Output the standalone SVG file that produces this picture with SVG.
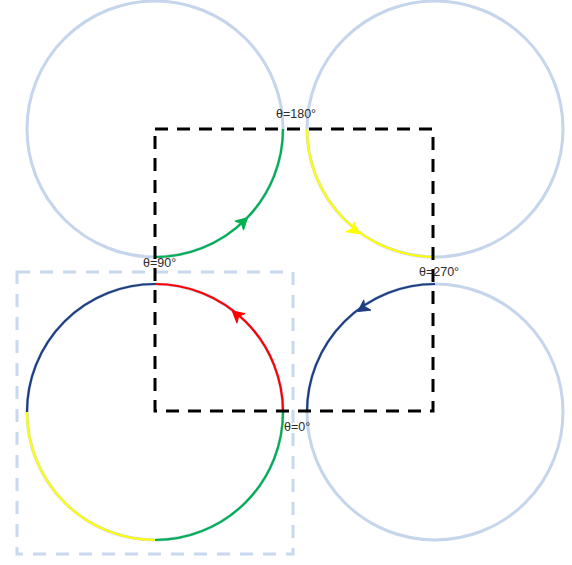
<svg xmlns="http://www.w3.org/2000/svg" width="572" height="565" viewBox="0 0 572 565">
<style>
.c{fill:none;stroke:#c5d5ec;stroke-width:3}
.a{fill:none;stroke-width:2.2}
.lbl{font-family:"Liberation Sans",Arial,sans-serif;font-size:12.5px;fill:#2b2b2b}
</style>
<defs>
<path id="ah" d="M6,0 L-5,-6 L-2,0 L-5,6 Z" stroke-width="1.2" stroke-linejoin="round"/>
</defs>
<rect width="572" height="565" fill="#fff"/>
<g id="frame-light">
<rect x="17" y="272" width="276" height="282" fill="none" stroke="#c8d8ef" stroke-width="3" stroke-dasharray="13,10"/>
</g>
<g id="circle-tl">
<circle class="c" cx="155" cy="129" r="128"/>
<path class="a" stroke="#00b050" d="M155,257 A128,128 0 0 0 283,129"/>
<use href="#ah" fill="#00b050" stroke="#00b050" transform="translate(243,222) rotate(-43.4)"/>
</g>
<g id="circle-tr">
<circle class="c" cx="435" cy="129" r="128"/>
<path class="a" stroke="#ffff00" d="M307,129 A128,128 0 0 0 435,257"/>
<use href="#ah" fill="#ffff00" stroke="#ffff00" transform="translate(354,230) rotate(38.7)"/>
</g>
<g id="circle-br">
<circle class="c" cx="435" cy="412" r="128"/>
<path class="a" stroke="#203f80" d="M435,284 A128,128 0 0 0 307,412"/>
<use href="#ah" fill="#203f80" stroke="#203f80" transform="translate(363,308) rotate(145.6)"/>
</g>
<g id="circle-bl">
<circle class="c" cx="155" cy="412" r="128"/>
<path class="a" stroke="#203f80" d="M27,412 A128,128 0 0 1 155,284"/>
<path class="a" stroke="#ff0000" d="M155,284 A128,128 0 0 1 283,412"/>
<path class="a" stroke="#00b050" d="M283,412 A128,128 0 0 1 155,540"/>
<path class="a" stroke="#ffff00" d="M155,540 A128,128 0 0 1 27,412"/>
<use href="#ah" fill="#ff0000" stroke="#ff0000" transform="translate(237,315) rotate(-139.8)"/>
</g>
<g id="connectors">
<rect x="155" y="129" width="278" height="282" fill="none" stroke="#000" stroke-width="3" stroke-dasharray="13,9"/>
</g>
<g id="labels">
<text class="lbl" x="143" y="267">θ=90°</text>
<text class="lbl" x="276" y="118">θ=180°</text>
<text class="lbl" x="419" y="276">θ=270°</text>
<text class="lbl" x="284" y="431">θ=0°</text>
</g>
</svg>
